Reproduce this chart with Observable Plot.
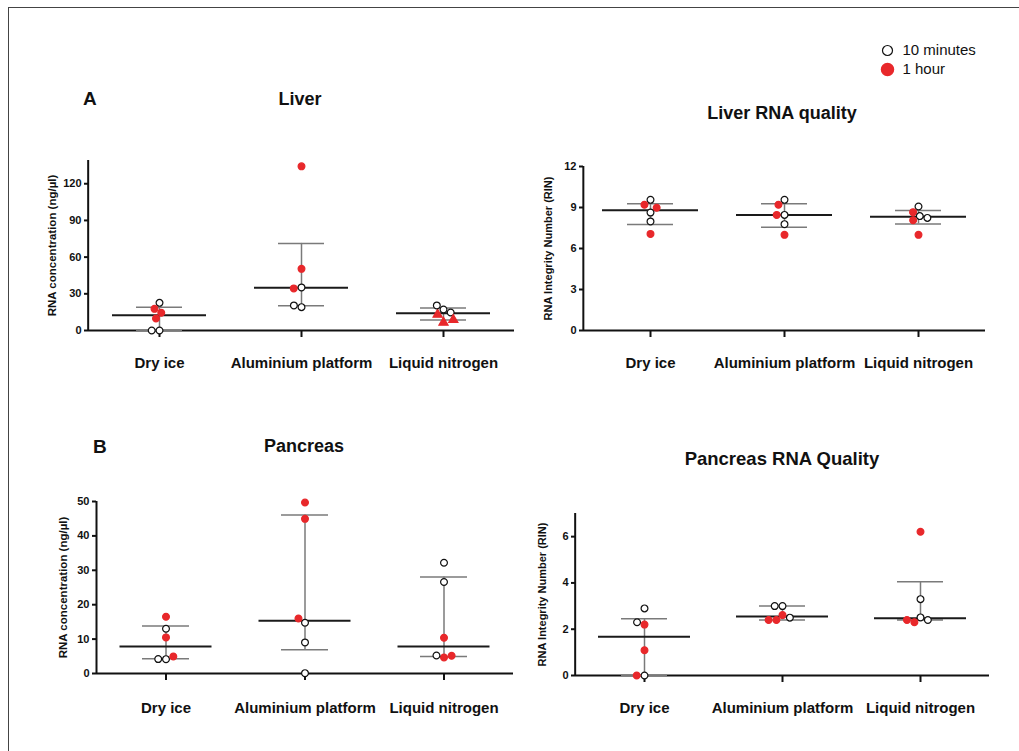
<!DOCTYPE html>
<html>
<head>
<meta charset="utf-8">
<script src="https://cdn.jsdelivr.net/npm/d3@7"></script>
<script src="https://cdn.jsdelivr.net/npm/@observablehq/plot@0.6"></script>
<style>
  html, body { margin: 0; padding: 0; background: #fff; overflow: hidden; }
  #root { position: relative; width: 1019px; height: 751px; overflow: hidden; font-family: "Liberation Sans", Arial, Helvetica, sans-serif; }
  .frame { position: absolute; left: 8px; top: 7px; width: 1200px; height: 900px; border-left: 1.5px solid #444; border-top: 1.5px solid #444; }
  .ttl { position: absolute; font-weight: bold; font-size: 18px; line-height: 18px; white-space: nowrap; color: #111; }
  .ttl.c { text-align: center; width: 300px; }
</style>
</head>
<body>
<div id="root"><div class="frame"></div></div>
<script>
// ---------- data ----------
const categories = ["Dry ice", "Aluminium platform", "Liquid nitrogen"];
const series = ["10 minutes", "1 hour"];

// Liver RNA concentration (ng/µl)
const liverConc10min = [[22.6, 0, 0], [35.2, 19.1, 20.5], [17.2, 20.5, 14.7]];
const liverConc1h    = [[17.7, 14.5, 9.8], [134.2, 50.4, 34.4], [13.0, 6.5, 8.7]];
const liverConcMedian = [12.5, 34.9, 14.2];
const liverConcLow    = [0, 20.2, 8.5];
const liverConcHigh   = [19.1, 71.2, 18.3];

// Liver RIN
const liverRin10min = [[9.56, 8.63, 7.98], [9.56, 8.46, 7.78], [9.07, 8.37, 8.24]];
const liverRin1h    = [[9.2, 8.98, 7.07], [9.2, 8.46, 7.0], [8.66, 8.07, 7.0]];
const liverRinMedian = [8.8, 8.46, 8.32];
const liverRinLow    = [7.76, 7.56, 7.8];
const liverRinHigh   = [9.27, 9.27, 8.78];

// Pancreas RNA concentration (ng/µl)
const pancConc10min = [[13.0, 4.17, 4.2], [14.76, 9.03, 0.1], [32.2, 26.6, 5.24]];
const pancConc1h    = [[16.5, 10.5, 4.95], [49.7, 44.95, 16.0], [10.4, 4.66, 5.15]];
const pancConcMedian = [7.86, 15.3, 7.86];
const pancConcLow    = [4.27, 6.9, 4.95];
const pancConcHigh   = [13.8, 46.1, 28.06];

// Pancreas RIN
const pancRin10min = [[2.9, 2.3, 0], [3.0, 3.0, 2.5], [3.3, 2.51, 2.4]];
const pancRin1h    = [[2.2, 1.09, 0], [2.61, 2.4, 2.4], [6.21, 2.3, 2.4]];
const pancRinMedian = [1.67, 2.55, 2.47];
const pancRinLow    = [0, 2.4, 2.4];
const pancRinHigh   = [2.45, 3.0, 4.05];

const concTicks = [0, 30, 60, 90, 120];
const rinTicks12 = [0, 3, 6, 9, 12];
const pancConcTicks = [0, 10, 20, 30, 40, 50];
const pancRinTicks = [0, 2, 4, 6];

// ---------- drawing ----------
const RED = "#e8282b";
const INK = "#111";
const GREY = "#7a7a7a";
const FONT = '"Liberation Sans", Arial, Helvetica, sans-serif';
const root = document.getElementById("root");

function place(el, left, top) {
  el.style.position = "absolute";
  el.style.left = left + "px";
  el.style.top = top + "px";
  root.appendChild(el);
}

function panel(o) {
  const points = [];
  categories.forEach((c, i) => {
    for (let k = 0; k < 3; k++) {
      points.push({cat: c, s: series[0], v: o.v10[i][k]});
      points.push({cat: c, s: series[1], v: o.v1h[i][k]});
    }
  });
  const summary = categories.map((c, i) => ({cat: c, med: o.med[i], lo: o.lo[i], hi: o.hi[i]}));
  const frameH = o.height - o.mt - o.mb;
  const bandW = (o.width - o.ml - o.mr) / categories.length;
  const svg = Plot.plot({
    width: o.width, height: o.height,
    marginLeft: o.ml, marginRight: o.mr, marginTop: o.mt, marginBottom: o.mb,
    fx: {domain: categories, padding: 0, label: null},
    y: {domain: o.yDomain, label: null},
    style: {fontFamily: FONT, background: "transparent", overflow: "visible", color: INK},
    marks: [
      Plot.axisY({ticks: o.yTicks, tickFormat: d => String(d), tickSize: 4, tickPadding: 3, strokeWidth: 2, fontSize: 11, fontWeight: "bold", label: null}),
      Plot.axisY({ticks: [], label: o.yLabel, labelAnchor: "center", labelOffset: o.lo2, labelArrow: "none", fontSize: o.labelSize, fontWeight: "bold"}),
      Plot.axisFx({anchor: "bottom", tickSize: 0, tickPadding: o.tp, fontSize: 15, fontWeight: "bold", label: null}),
      // y axis line (left edge of the first facet)
      Plot.ruleX([categories[0]], {fx: d => d, x: null, dx: -bandW / 2, stroke: INK, strokeWidth: 2}),
      // category tick marks below the baseline
      Plot.ruleX(categories, {fx: d => d, x: null, insetTop: frameH, insetBottom: -7, stroke: INK, strokeWidth: 2}),
      Plot.ruleY([0], {stroke: INK, strokeWidth: 2}),
      Plot.ruleX(summary, {fx: "cat", x: null, y1: "lo", y2: "hi", stroke: GREY, strokeWidth: 1.5}),
      Plot.tickY(summary, {fx: "cat", y: "hi", stroke: GREY, strokeWidth: 1.5, insetLeft: o.capInset, insetRight: o.capInset}),
      Plot.tickY(summary, {fx: "cat", y: "lo", stroke: GREY, strokeWidth: 1.5, insetLeft: o.capInset, insetRight: o.capInset}),
      Plot.tickY(summary, {fx: "cat", y: "med", stroke: "#1a1a1a", strokeWidth: 2, insetLeft: o.medInset, insetRight: o.medInset}),
      Plot.dot(points, Plot.dodgeX("middle", {
        fx: "cat", y: "v", r: 3.4, strokeWidth: 1.2,
        fill: d => d.s === series[0] ? "white" : RED,
        stroke: d => d.s === series[0] ? INK : RED,
        symbol: d => (o.triangleCat && d.cat === o.triangleCat && d.s === series[1]) ? "triangle" : "circle"
      }))
    ]
  });
  place(svg, o.left, o.top);
  return svg;
}

panel({left: 0, top: 140, width: 530, height: 250, ml: 87, mr: 15, mt: 20, mb: 60,
  v10: liverConc10min, v1h: liverConc1h, med: liverConcMedian, lo: liverConcLow, hi: liverConcHigh,
  yDomain: [0, 139], yTicks: concTicks, yLabel: "RNA concentration (ng/µl)", lo2: 41, labelSize: 11.5, tp: 27,
  medInset: 24, capInset: 48, triangleCat: "Liquid nitrogen"});

panel({left: 500, top: 140, width: 500, height: 250, ml: 82, mr: 15, mt: 26, mb: 60,
  v10: liverRin10min, v1h: liverRin1h, med: liverRinMedian, lo: liverRinLow, hi: liverRinHigh,
  yDomain: [0, 12], yTicks: rinTicks12, yLabel: "RNA Integrity Number (RIN)", lo2: 39, labelSize: 11, tp: 27,
  medInset: 19, capInset: 44});

panel({left: 0, top: 480, width: 530, height: 260, ml: 96, mr: 17, mt: 21, mb: 67,
  v10: pancConc10min, v1h: pancConc1h, med: pancConcMedian, lo: pancConcLow, hi: pancConcHigh,
  yDomain: [0, 50], yTicks: pancConcTicks, yLabel: "RNA concentration (ng/µl)", lo2: 38, labelSize: 11.5, tp: 29,
  medInset: 23.5, capInset: 46});

panel({left: 500, top: 480, width: 500, height: 260, ml: 74, mr: 10, mt: 33, mb: 65,
  v10: pancRin10min, v1h: pancRin1h, med: pancRinMedian, lo: pancRinLow, hi: pancRinHigh,
  yDomain: [0, 7], yTicks: pancRinTicks, yLabel: "RNA Integrity Number (RIN)", lo2: 37, labelSize: 11, tp: 27,
  medInset: 23, capInset: 46});

// legend
const legend = Plot.plot({
  width: 140, height: 38, margin: 0,
  y: {domain: series, axis: null},
  style: {fontFamily: FONT, background: "transparent", overflow: "visible", color: INK},
  marks: [
    Plot.dot([series[0]], {y: d => d, frameAnchor: "left", dx: 12, r: 5, fill: "white", stroke: INK, strokeWidth: 1.2}),
    Plot.dot([series[1]], {y: d => d, frameAnchor: "left", dx: 12, r: 6, fill: RED, stroke: RED}),
    Plot.text(series, {y: d => d, frameAnchor: "left", dx: 27, text: d => d, textAnchor: "start", fontSize: 15, fill: INK})
  ]
});
place(legend, 875, 40);

// titles
function title(text, x, baseline, size, center) {
  const d = document.createElement("div");
  d.className = "ttl" + (center ? " c" : "");
  d.textContent = text;
  d.style.fontSize = size + "px";
  d.style.lineHeight = size + "px";
  d.style.top = (baseline - size * 0.845) + "px";
  d.style.left = (center ? x - 150 : x) + "px";
  root.appendChild(d);
}
title("A", 83, 105, 19, false);
title("Liver", 300, 105, 18, true);
title("Liver RNA quality", 782, 119, 18, true);
title("B", 93, 453, 19, false);
title("Pancreas", 304, 452, 18, true);
title("Pancreas RNA Quality", 782, 466, 18.5, true);
</script>
</body>
</html>
